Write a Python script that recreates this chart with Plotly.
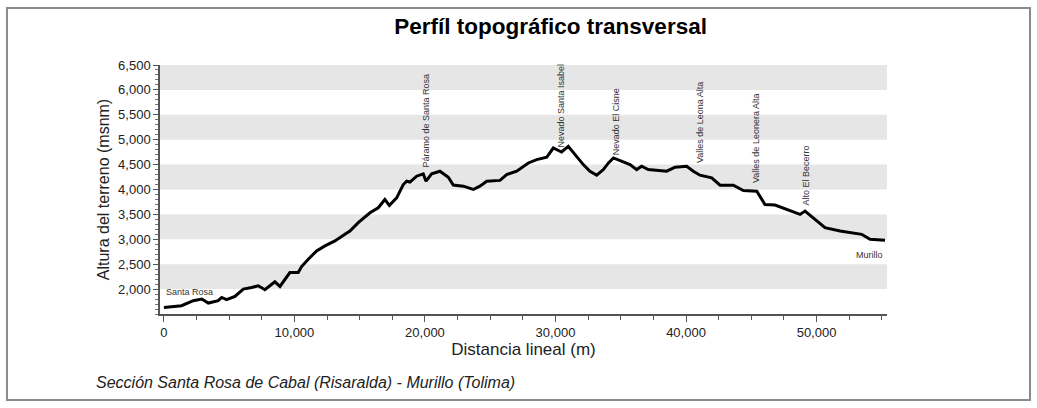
import plotly.graph_objects as go

# ---- data ----
distance_m = [0, 700, 1350, 2250, 2900, 3400, 4160, 4420, 4800, 5440, 6080, 6720, 7230, 7740,
              8120, 8500, 8890, 9650, 10290, 10550, 11060, 11700, 12340, 13100, 13870, 14250,
              14890, 15790, 16420, 16930, 17270, 17830, 18340, 18600, 18850, 19360, 19870,
              20080, 20510, 21150, 21790, 22170, 22940, 23700, 24210, 24730, 25750, 26260,
              27030, 27920, 28560, 29330, 29830, 30470, 30980, 31490, 32130, 32640, 33160,
              33670, 34060, 34440, 34940, 35710, 36220, 36600, 37110, 38520, 39160, 40050,
              40560, 41070, 41970, 42610, 43630, 44390, 45420, 46050, 46820, 47970, 48740,
              49120, 49760, 50650, 51800, 53460, 54100, 55250]
elevation_m = [1630, 1650, 1667, 1767, 1800, 1720, 1767, 1833, 1787, 1853, 2000, 2033, 2067, 1987,
               2067, 2147, 2053, 2333, 2333, 2453, 2600, 2767, 2867, 2967, 3100, 3167,
               3333, 3533, 3633, 3800, 3680, 3833, 4100, 4167, 4150, 4267, 4313,
               4167, 4313, 4367, 4247, 4090, 4067, 4000, 4067, 4167, 4183, 4300,
               4367, 4533, 4600, 4647, 4833, 4753, 4867, 4700, 4500, 4367, 4287,
               4400, 4533, 4633, 4580, 4500, 4400, 4467, 4400, 4367, 4447, 4467,
               4367, 4287, 4233, 4087, 4087, 3980, 3967, 3700, 3687, 3567, 3500,
               3567, 3433, 3233, 3167, 3100, 3000, 2980]

vertical_labels = ["Páramo de Santa Rosa", "Nevado Santa Isabel", "Nevado El Cisne",
                   "Valles de Leona Alta", "Valles de Leonera Alta", "Alto El Becerro"]
vertical_label_x = [20080, 30420, 34640, 41070, 45360, 49200]
vertical_label_y = [4400, 4800, 4640, 4500, 4100, 3640]

end_labels = ["Santa Rosa", "Murillo"]
end_label_x = [0, 55250]
end_label_y = [1940, 2680]

y_ticks = [2000, 2500, 3000, 3500, 4000, 4500, 5000, 5500, 6000, 6500]
x_ticks = [0, 10000, 20000, 30000, 40000, 50000]
band_ranges = [(2000, 2500), (3000, 3500), (4000, 4500), (5000, 5500), (6000, 6500)]

FONT = "Liberation Sans, Arial, sans-serif"

fig = go.Figure()
fig.add_trace(go.Scatter(x=distance_m, y=elevation_m, mode="lines",
                         line=dict(color="black", width=3), showlegend=False,
                         hoverinfo="skip"))

shapes = []
for lo, hi in band_ranges:
    shapes.append(dict(type="rect", xref="paper", yref="y", x0=0, x1=1, y0=lo, y1=hi,
                       fillcolor="#e6e6e6", line=dict(width=0), layer="below"))
# outer frame
shapes.append(dict(type="rect", xref="paper", yref="paper", x0=-0.2105, x1=1.1967,
                   y0=-0.345, y1=1.229, line=dict(color="#8a8a8a", width=2),
                   fillcolor="rgba(0,0,0,0)", layer="below"))

annotations = []
for t, x, y in zip(vertical_labels, vertical_label_x, vertical_label_y):
    annotations.append(dict(x=x, y=y, xref="x", yref="y", text=t, textangle=-90,
                            showarrow=False, xanchor="center", yanchor="bottom",
                            font=dict(family=FONT, size=9, color="#333333")))
annotations.append(dict(x=end_label_x[0], y=end_label_y[0], xref="x", yref="y",
                        text=end_labels[0], showarrow=False, xanchor="left", yanchor="middle",
                        font=dict(family=FONT, size=9, color="#333333")))
annotations.append(dict(x=end_label_x[1], y=end_label_y[1], xref="x", yref="y",
                        text=end_labels[1], showarrow=False, xanchor="right", yanchor="middle",
                        font=dict(family=FONT, size=9, color="#333333")))
annotations.append(dict(x=-0.091, y=-0.275, xref="paper", yref="paper",
                        text="<i>Sección Santa Rosa de Cabal (Risaralda) - Murillo (Tolima)</i>",
                        showarrow=False, xanchor="left", yanchor="middle",
                        font=dict(family=FONT, size=16, color="#222222")))

fig.update_layout(
    width=1037, height=408,
    margin=dict(l=160, r=150, t=65, b=94),
    paper_bgcolor="white", plot_bgcolor="white",
    title=dict(text="<b>Perfíl topográfico transversal</b>", x=0.531, xref="container",
               xanchor="center", y=0.935, yanchor="middle",
               font=dict(family=FONT, size=22.5, color="black")),
    shapes=shapes, annotations=annotations,
    font=dict(family=FONT, color="#222222"),
    xaxis=dict(range=[-300, 55400], tickvals=x_ticks, tickformat=",d",
               ticks="outside", ticklen=6, tickcolor="#555", showline=True,
               linecolor="#555", linewidth=1.5, showgrid=False, zeroline=False,
               minor=dict(dtick=2500, tick0=0, ticks="outside", ticklen=4, tickcolor="#555"),
               tickfont=dict(size=13, family=FONT, color="#222"),
               title=dict(text="Distancia lineal (m)", standoff=4,
                          font=dict(size=17, family=FONT, color="#222"))),
    yaxis=dict(range=[1500, 6500], tickvals=y_ticks, tickformat=",d",
               ticks="outside", ticklen=5, tickcolor="#555", showline=True,
               linecolor="#555", linewidth=1.5, showgrid=False, zeroline=False,
               minor=dict(dtick=100, tick0=0, ticks="outside", ticklen=3, tickcolor="#777"),
               tickfont=dict(size=13, family=FONT, color="#222"),
               title=dict(text="Altura del terreno (msnm)", standoff=5,
                          font=dict(size=16, family=FONT, color="#222"))),
)

fig.write_html("out.html", config={"displayModeBar": False},
               post_script="document.body.style.margin='0';")
